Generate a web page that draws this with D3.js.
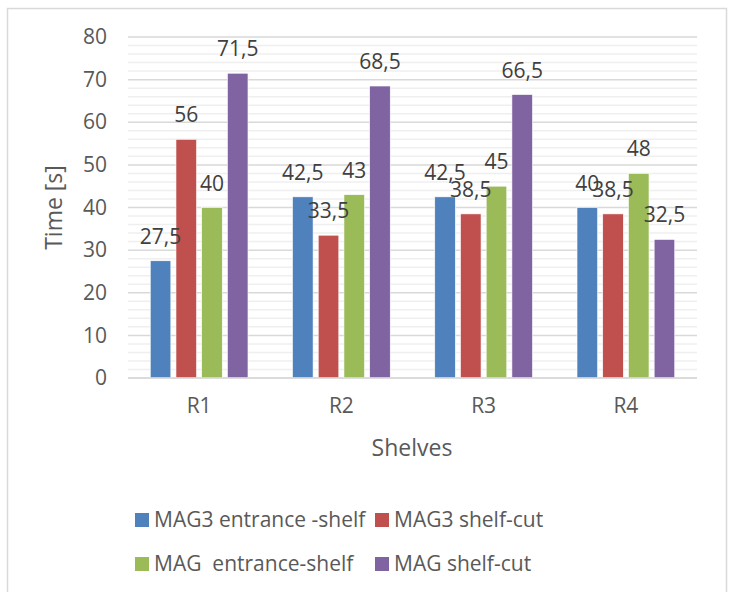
<!DOCTYPE html>
<html>
<head>
<meta charset="utf-8">
<script src="https://cdn.jsdelivr.net/npm/d3@7"></script>
<style>
  body { margin: 0; background: #fff; }
  svg text { font-family: "Open Sans", sans-serif; }
</style>
</head>
<body>
<svg id="chart" width="730" height="592"></svg>
<script>
// chart data
var shelves = ["R1", "R2", "R3", "R4"];
var seriesNames = ["MAG3 entrance -shelf", "MAG3 shelf-cut", "MAG  entrance-shelf", "MAG shelf-cut"];
var mag3Entrance = [27.5, 42.5, 42.5, 40];
var mag3Cut = [56, 33.5, 38.5, 38.5];
var magEntrance = [40, 43, 45, 48];
var magCut = [71.5, 68.5, 66.5, 32.5];
var colors = ["#4f81bd", "#c0504d", "#9bbb59", "#8064a2"];
var yTicks = [0, 10, 20, 30, 40, 50, 60, 70, 80];

var seriesValues = [mag3Entrance, mag3Cut, magEntrance, magCut];

function drawChart() {
    var svg = d3.select("#chart");
    var plotLeft = 128, plotRight = 697, plotTop = 37, plotBottom = 378;

    // outer frame
    svg.append("rect")
        .attr("x", 7.5).attr("y", 8.5)
        .attr("width", 719).attr("height", 600)
        .attr("fill", "none")
        .attr("stroke", "#d9d9d9").attr("stroke-width", 1.5);

    var y = d3.scaleLinear().domain([0, 80]).range([plotBottom, plotTop]);
    var x0 = d3.scaleBand().domain(shelves).range([plotLeft, plotRight])
        .paddingInner(0.313).paddingOuter(0.1565);
    var x1 = d3.scaleBand().domain(d3.range(seriesNames.length))
        .range([0, x0.bandwidth()]).paddingInner(0.2);

    // minor grid every 2
    var minor = d3.range(2, 80, 2).filter(function(v) { return v % 10 !== 0; });
    svg.append("g").selectAll("line").data(minor).join("line")
        .attr("x1", plotLeft).attr("x2", plotRight)
        .attr("y1", function(d) { return y(d); }).attr("y2", function(d) { return y(d); })
        .attr("stroke", "#efefef").attr("stroke-width", 1.5);

    // major grid
    svg.append("g").selectAll("line").data(yTicks).join("line")
        .attr("x1", plotLeft).attr("x2", plotRight)
        .attr("y1", function(d) { return y(d); }).attr("y2", function(d) { return y(d); })
        .attr("stroke", "#d9d9d9").attr("stroke-width", 1.5);

    // y axis labels
    var yAxis = svg.append("g")
        .attr("transform", "translate(" + (plotLeft - 5) + ",0)")
        .call(d3.axisLeft(y).tickValues(yTicks).tickSize(0).tickPadding(16));
    yAxis.select(".domain").remove();
    yAxis.selectAll("text")
        .attr("fill", "#595959").style("font-size", "21px");

    // x axis labels
    var xAxis = svg.append("g")
        .attr("transform", "translate(0," + plotBottom + ")")
        .call(d3.axisBottom(x0).tickSize(0).tickPadding(20));
    xAxis.select(".domain").remove();
    xAxis.selectAll("text")
        .attr("fill", "#595959").style("font-size", "21px");

    // bars
    var groups = svg.append("g").selectAll("g").data(shelves).join("g")
        .attr("transform", function(d) { return "translate(" + x0(d) + ",0)"; });

    function rows(d, i) {
        return seriesValues.map(function(s, k) { return { k: k, v: s[i] }; });
    }

    groups.selectAll("rect").data(rows).join("rect")
        .attr("x", function(d) { return x1(d.k); })
        .attr("y", function(d) { return y(d.v); })
        .attr("width", x1.bandwidth())
        .attr("height", function(d) { return y(0) - y(d.v); })
        .attr("fill", function(d) { return colors[d.k]; })
        .attr("stroke", "#fff").attr("stroke-width", 0.6);

    groups.selectAll("text.val").data(rows).join("text")
        .attr("class", "val")
        .attr("x", function(d) { return x1(d.k) + x1.bandwidth() / 2; })
        .attr("y", function(d) { return y(d.v) - 17; })
        .attr("text-anchor", "middle")
        .attr("fill", "#404040").style("font-size", "21px")
        .text(function(d) { return String(d.v).replace(".", ","); });

    // baseline
    svg.append("line")
        .attr("x1", plotLeft).attr("x2", plotRight)
        .attr("y1", y(0)).attr("y2", y(0))
        .attr("stroke", "#d9d9d9").attr("stroke-width", 1.5);

    // axis titles
    svg.append("text")
        .attr("x", 412).attr("y", 456)
        .attr("text-anchor", "middle")
        .attr("fill", "#595959").style("font-size", "23px")
        .text("Shelves");

    svg.append("text")
        .attr("transform", "translate(62," + ((plotTop + plotBottom) / 2) + ") rotate(-90)")
        .attr("text-anchor", "middle")
        .attr("fill", "#595959").style("font-size", "23px")
        .text("Time [s]");

    // legend
    var legendPos = [[135, 513], [375, 513], [135, 557], [375, 557]];
    var legend = svg.append("g").selectAll("g").data(seriesNames).join("g")
        .attr("transform", function(d, i) { return "translate(" + legendPos[i][0] + "," + legendPos[i][1] + ")"; });
    legend.append("rect")
        .attr("width", 14).attr("height", 14)
        .attr("fill", function(d, i) { return colors[i]; });
    legend.append("text")
        .attr("x", 19).attr("y", 14)
        .attr("fill", "#595959").style("font-size", "21px")
        .style("white-space", "pre")
        .text(function(d) { return d; });
}

drawChart();
</script>
</body>
</html>
